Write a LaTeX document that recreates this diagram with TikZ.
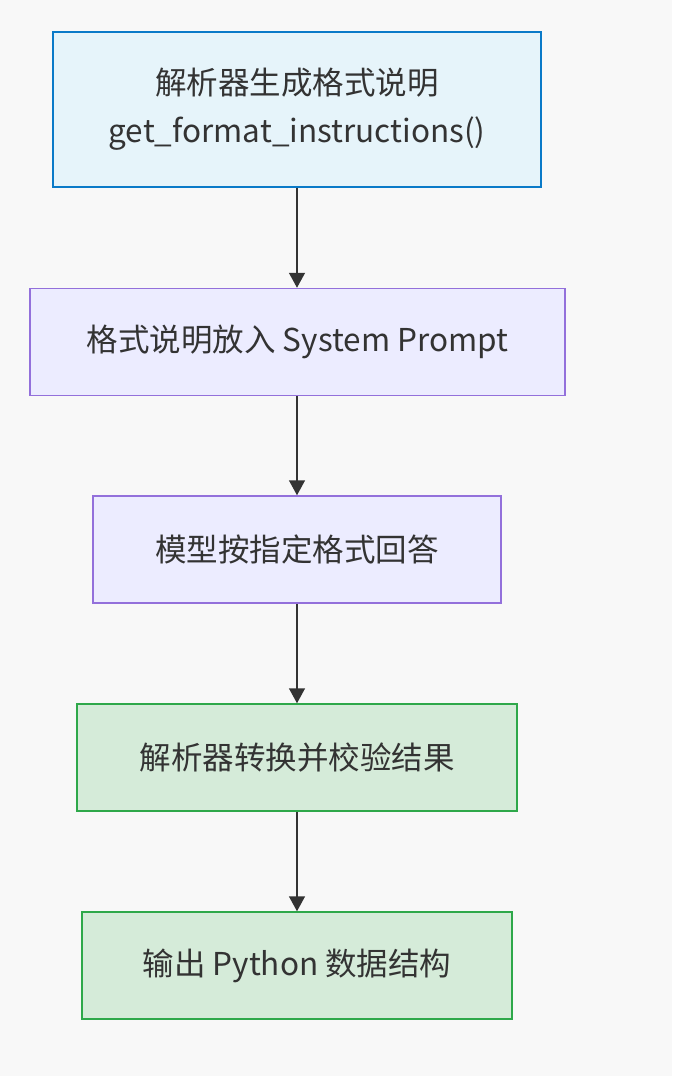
\documentclass[tikz,border=0pt]{standalone}
\usepackage{fontspec}
\setmainfont{Noto Sans CJK SC}
\usetikzlibrary{arrows.meta}
\usetikzlibrary{positioning}

\definecolor{bgcol}{HTML}{F8F8F8}
\definecolor{bluefill}{HTML}{E6F4FA}
\definecolor{blueline}{HTML}{0A7AC8}
\definecolor{lilacfill}{HTML}{ECECFF}
\definecolor{lilacline}{HTML}{9370DB}
\definecolor{greenfill}{HTML}{D5EBD9}
\definecolor{greenline}{HTML}{2EA84A}
\definecolor{inkcol}{HTML}{333333}

\begin{document}
\begin{tikzpicture}[x=1pt,y=-1pt]
\tikzset{
box/.style = {rectangle,
              line width=1.5pt,
              minimum height=107pt,
              align=center,
              text=inkcol,
              font=\fontsize{31.5}{48}\selectfont,
              inner sep=0pt},
bluebox/.style  = {box,draw=blueline,fill=bluefill},
lilacbox/.style = {box,draw=lilacline,fill=lilacfill},
greenbox/.style = {box,draw=greenline,fill=greenfill},
flow/.style = {draw=inkcol,line width=1.5pt,
               -{Triangle[length=15pt,width=16pt]}}
}

\fill[bgcol] (0,0) rectangle (672,1076);
\useasboundingbox (0,0) rectangle (672,1076);

\node[bluebox,minimum width=488pt,minimum height=155pt]  at (297,109.5) (parse)  {解析器生成格式说明\\get\_format\_instructions()};
\node[lilacbox,minimum width=535pt] at (297.5,342)  (prompt) {格式说明放入 System Prompt};
\node[lilacbox,minimum width=408pt] at (297,549.5)  (answer) {模型按指定格式回答};
\node[greenbox,minimum width=440pt] at (297,757.5)  (check)  {解析器转换并校验结果};
\node[greenbox,minimum width=430pt] at (297,965.5)  (result) {输出 Python 数据结构};

\draw[flow] (parse.south)  -- (parse.south |- prompt.north);
\draw[flow] (prompt.south -| answer.north) -- (answer.north);
\draw[flow] (answer.south) -- (check.north);
\draw[flow] (check.south)  -- (result.north);
\end{tikzpicture}
\end{document}
